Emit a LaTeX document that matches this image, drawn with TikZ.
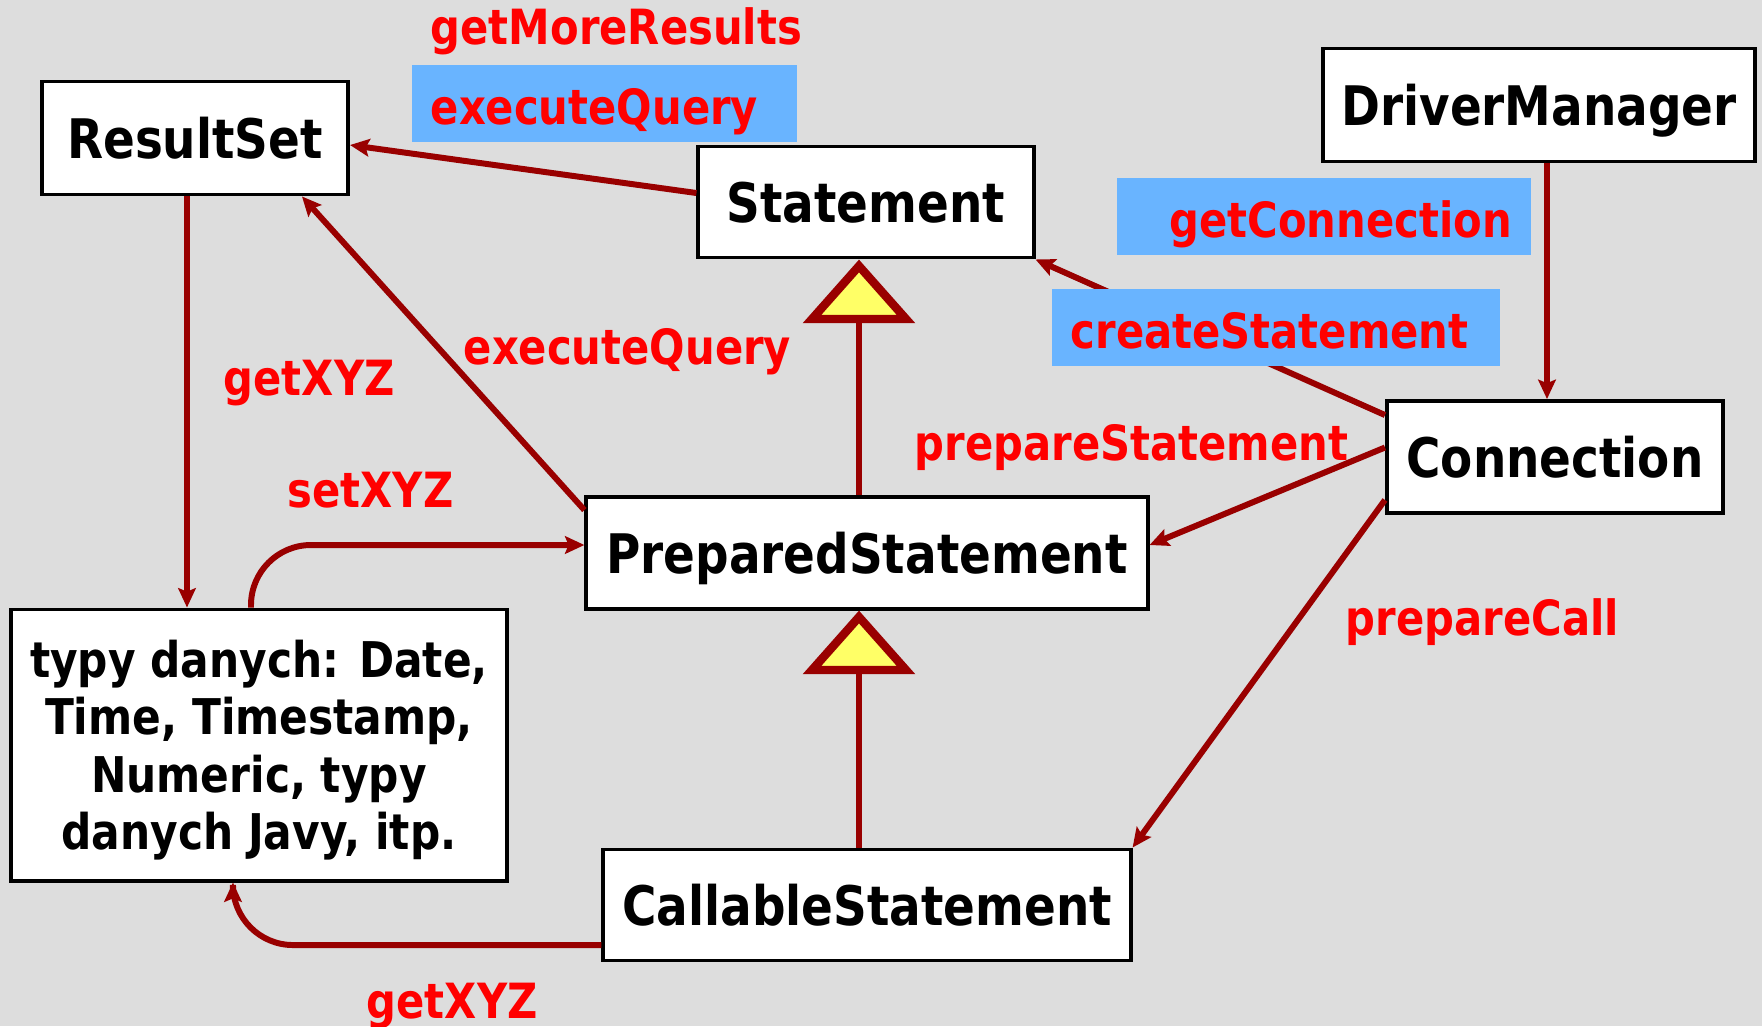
\documentclass[tikz,border=0pt]{standalone}
\usepackage{fontspec}
\usetikzlibrary{arrows.meta}
\newfontfamily\umlfont[FakeStretch=0.86]{DejaVu Sans}
\definecolor{bggray}{HTML}{DDDDDD}
\definecolor{linkred}{HTML}{990000}
\definecolor{lblred}{HTML}{FF0000}
\definecolor{callblue}{HTML}{69B4FF}
\definecolor{triyellow}{HTML}{FFFF66}
\tikzset{
  box/.style={draw=black, line width=1.1pt, fill=white, inner sep=0pt,
    font=\umlfont\bfseries\fontsize{15.5}{18}\selectfont},
  cls/.style={box, text height=14.9pt, text depth=3pt},
  link/.style={draw=linkred, line width=1.7pt, -{Stealth[length=5.5pt,width=5pt,inset=1pt]}},
  plain/.style={draw=linkred, line width=1.7pt},
  inherit/.style={draw=linkred, fill=triyellow, line width=2.4pt, line join=miter},
  call/.style={text=lblred, inner sep=0pt, anchor=base west,
    font=\umlfont\bfseries\fontsize{13.8}{16}\selectfont},
  callbox/.style={call, fill=callblue, inner xsep=0.19cm, inner ysep=0pt,
    text height=0.59cm, text depth=0.18cm},
}

\begin{document}
\begin{tikzpicture}[x=0.01cm, y=-0.01cm]
    \fill[bggray] (0,0) rectangle (1762,1026);
    \useasboundingbox (0,0) rectangle (1762,1026);

    \node[cls, minimum width=3.06cm, minimum height=1.13cm] (rs) at (195,138) {ResultSet};
    \node[cls, minimum width=3.35cm, minimum height=1.11cm] (stmt) at (866,202) {Statement};
    \node[cls, minimum width=4.32cm, minimum height=1.13cm] (dm) at (1539,105) {DriverManager};
    \node[cls, minimum width=3.36cm, minimum height=1.12cm] (conn) at (1555,457) {Connection};
    \node[cls, minimum width=5.61cm, minimum height=1.12cm] (ps) at (867,553) {PreparedStatement};
    \node[cls, minimum width=5.27cm, minimum height=1.11cm] (cs) at (867,905) {CallableStatement};
    \node[box, minimum width=4.96cm, minimum height=2.71cm,
      font=\umlfont\bfseries\fontsize{14}{16.3}\selectfont] (types) at (259,745)
      {\raisebox{-2pt}[\height][\depth]{\begin{tabular}{@{}c@{}}typy danych: Date,\\ Time, Timestamp,\\ Numeric, typy\\ danych Javy, itp.\end{tabular}}};

    % dziedziczenie
    \coordinate (tri1) at (859,266);
    \coordinate (tri2) at (859,617);
    \draw[plain] ([yshift=-0.53cm]tri1) -- (ps.north -| tri1);
    \draw[plain] ([yshift=-0.53cm]tri2) -- (cs.north -| tri2);
    \draw[inherit] (tri1) -- ++(47,53) -- ++(-94,0) -- cycle;
    \draw[inherit] (tri2) -- ++(47,53) -- ++(-94,0) -- cycle;

    \draw[link] ([yshift=0.09cm]stmt.west) -- ([yshift=-0.07cm]rs.east);
    \draw[link] ([yshift=-0.15cm]ps.north west) -- ([xshift=-0.48cm]rs.south east);
    \draw[link] ([xshift=-0.08cm]rs.south) -- ([xshift=-0.08cm]rs.south |- types.north);
    \draw[link, rounded corners=0.6cm] ([xshift=-0.08cm]types.north) |- ([yshift=0.08cm]ps.west);
    \draw[link, rounded corners=0.6cm] ([yshift=-0.4cm]cs.west) -| ([xshift=-0.26cm]types.south);
    \draw[link] ([xshift=0.08cm]dm.south) -- ([xshift=0.08cm]dm.south |- conn.north);
    \draw[link] ([yshift=-0.16cm]conn.north west) -- (stmt.south east);
    \draw[link] ([yshift=0.095cm]conn.west) -- ([yshift=0.08cm]ps.east);
    \draw[link] ([yshift=0.15cm]conn.south west) -- (cs.north east);

    \node[call] (lblMore) at (430,44) {getMoreResults};
    \node[callbox, text width=3.47cm, align=left] (lblExecA) at (411,124) {executeQuery};
    \node[callbox, text width=3.76cm, align=right] (lblGetConn) at (1116,237) {getConnection};
    \node[callbox, text width=4.10cm, align=left] (lblCreate) at (1051,348) {createStatement};
    \node[call] (lblExecB) at (463,364) {executeQuery};
    \node[call] (lblGet) at (223,395) {getXYZ};
    \node[call] (lblSet) at (287,507) {setXYZ};
    \node[call] (lblPrepare) at (914,460) {prepareStatement};
    \node[call] (lblCall) at (1345,635) {prepareCall};
    \node[call] (lblGetB) at (366,1018) {getXYZ};
\end{tikzpicture}
\end{document}
